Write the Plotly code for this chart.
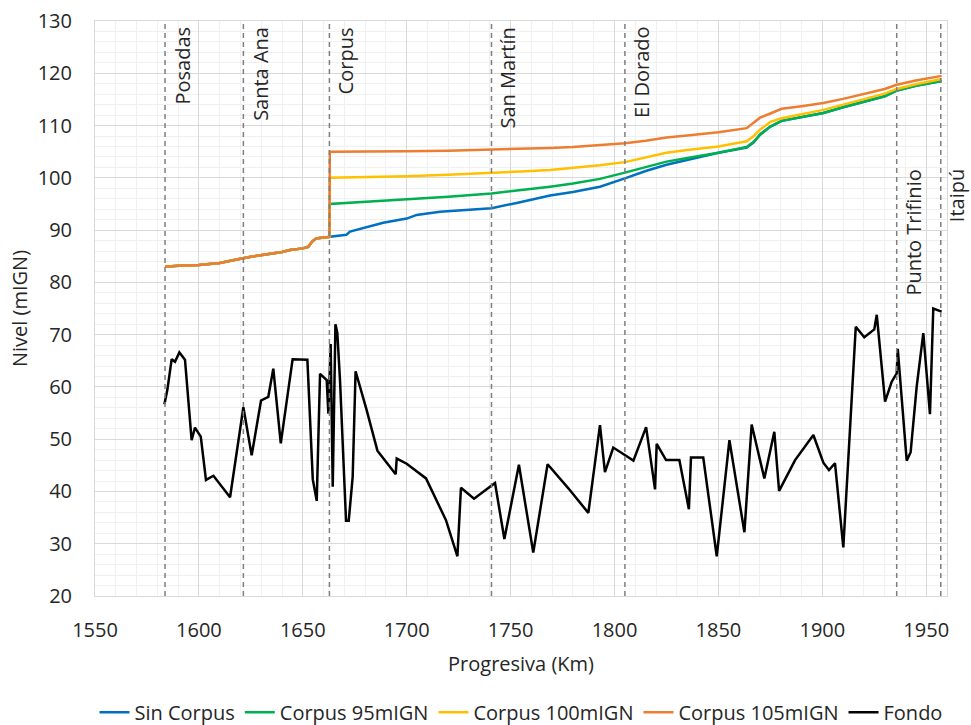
import plotly.graph_objects as go

# ---------------- data ----------------
# common water level upstream of Corpus (shared by all scenarios)
km_common = [1583.7, 1590, 1600, 1610, 1620, 1625, 1640, 1643.8, 1650, 1652.6, 1654.5, 1656.4, 1660, 1662.8]
lvl_common = [83.0, 83.2, 83.3, 83.7, 84.5, 84.9, 85.8, 86.2, 86.5, 86.8, 87.8, 88.4, 88.6, 88.7]

km_sin = [1662.8, 1668, 1671, 1672.7, 1680, 1688.7, 1700, 1704.8, 1716, 1728.9, 1740.8, 1752.9, 1760, 1769,
          1780, 1793, 1805, 1815, 1825, 1835, 1850, 1863.6, 1867, 1870, 1875, 1880.4, 1890, 1900.5, 1910,
          1920, 1930, 1935.8, 1945, 1957.4]
lvl_sin = [88.7, 88.9, 89.1, 89.7, 90.5, 91.4, 92.2, 92.9, 93.5, 93.9, 94.2, 95.2, 95.8, 96.6,
           97.3, 98.3, 99.9, 101.3, 102.5, 103.4, 104.8, 105.8, 106.8, 108.3, 109.8, 110.9, 111.6, 112.4, 113.5,
           114.5, 115.6, 116.7, 117.6, 118.5]

km_95 = [1662.8, 1663.0, 1680, 1700, 1720, 1740.8, 1755, 1769, 1780, 1793, 1805, 1815, 1825, 1835, 1850,
         1863.6, 1867, 1870, 1875, 1880.4, 1890, 1900.5, 1910, 1920, 1930, 1935.8, 1945, 1957.4]
lvl_95 = [88.7, 95.0, 95.4, 95.9, 96.4, 97.0, 97.6, 98.3, 98.9, 99.8, 101.0, 102.0, 103.1, 103.8, 104.8,
          105.9, 106.9, 108.2, 109.8, 110.9, 111.6, 112.4, 113.5, 114.5, 115.6, 116.7, 117.6, 118.5]

km_100 = [1662.8, 1663.0, 1680, 1700, 1720, 1740.8, 1755, 1769, 1780, 1793, 1805, 1815, 1825, 1835, 1850,
          1863.6, 1867, 1870, 1875, 1880.4, 1890, 1900.5, 1910, 1920, 1930, 1935.8, 1945, 1957.4]
lvl_100 = [88.7, 100.0, 100.1, 100.3, 100.6, 100.9, 101.2, 101.5, 101.9, 102.4, 103.0, 103.9, 104.8, 105.3, 106.0,
           107.0, 108.0, 109.2, 110.7, 111.4, 112.1, 113.0, 114.0, 115.0, 116.1, 117.0, 117.9, 118.9]

km_105 = [1662.8, 1663.0, 1680, 1700, 1720, 1740.8, 1755, 1769, 1780, 1793, 1805, 1815, 1825, 1835, 1850,
          1863.6, 1867, 1870, 1875, 1880.4, 1890, 1900.5, 1910, 1920, 1930, 1935.8, 1945, 1957.4]
lvl_105 = [88.7, 105.0, 105.0, 105.1, 105.2, 105.4, 105.5, 105.7, 105.9, 106.3, 106.6, 107.1, 107.7, 108.1, 108.7,
           109.5, 110.5, 111.5, 112.3, 113.2, 113.7, 114.3, 115.1, 116.0, 117.0, 117.8, 118.6, 119.5]

km_fondo = [1583.4, 1584.8, 1586.9, 1588.5, 1590.6, 1593.3, 1596.5, 1598.1, 1600.9, 1603.4, 1607.0, 1610.6,
            1615.0, 1621.4, 1625.4, 1629.9, 1633.4, 1635.8, 1639.4, 1645.1, 1651.4, 1652.2, 1654.8, 1656.7,
            1658.3, 1661.5, 1662.3, 1663.4, 1664.4, 1665.7, 1666.6, 1667.9, 1670.8, 1672.1, 1674.0, 1675.4,
            1680.7, 1685.9, 1694.7, 1695.2, 1700.0, 1709.3, 1718.9, 1724.4, 1726.1, 1732.4, 1742.5, 1747.0,
            1754.0, 1760.9, 1767.8, 1777.8, 1787.4, 1793.0, 1795.4, 1799.4, 1809.1, 1815.2, 1819.5, 1820.3,
            1824.8, 1831.2, 1835.8, 1836.8, 1842.7, 1849.2, 1855.3, 1862.5, 1866.0, 1872.1, 1876.9, 1879.2,
            1886.9, 1895.7, 1900.5, 1903.2, 1906.1, 1910.1, 1916.1, 1920.2, 1925.0, 1926.2, 1930.2, 1933.4,
            1935.8, 1936.3, 1940.6, 1942.5, 1945.4, 1948.6, 1951.8, 1953.4, 1957.4]
lvl_fondo = [56.7, 59.4, 65.3, 64.8, 66.6, 65.2, 49.8, 52.2, 50.5, 42.2, 43.0, 41.2,
             38.9, 56.1, 46.9, 57.4, 58.1, 63.5, 49.2, 65.3, 65.3, 65.2, 42.3, 38.2,
             62.5, 61.3, 54.9, 68.2, 40.9, 72.0, 70.4, 61.3, 34.4, 34.4, 42.8, 63.0,
             55.6, 47.8, 43.3, 46.3, 45.3, 42.5, 34.5, 27.6, 40.7, 38.6, 41.6, 30.9,
             45.1, 28.3, 45.2, 40.6, 35.9, 52.7, 43.7, 48.4, 45.9, 52.3, 40.4, 49.1,
             46.0, 46.0, 36.6, 46.5, 46.5, 27.6, 49.8, 32.2, 52.8, 42.5, 51.4, 40.1,
             46.0, 50.8, 45.5, 44.1, 45.4, 29.3, 71.5, 69.5, 71.0, 73.8, 57.2, 61.0,
             62.6, 67.3, 45.9, 47.5, 60.0, 70.3, 54.8, 75.0, 74.4]

stations = ["Posadas", "Santa Ana", "Corpus", "San Martín", "El Dorado", "Punto Trifinio", "Itaipú"]
station_km = [1583.7, 1621.4, 1662.8, 1740.8, 1805.0, 1935.8, 1957.0]
station_low = [False, False, False, False, False, True, True]

series_names = ["Sin Corpus", "Corpus 95mIGN", "Corpus 100mIGN", "Corpus 105mIGN", "Fondo"]
colors = ["#0070C0", "#00B050", "#FFC000", "#ED7D31", "#000000"]

FONT = "Open Sans"
TXT = "#262626"

fig = go.Figure()
upper = [(km_sin, lvl_sin), (km_95, lvl_95), (km_100, lvl_100), (km_105, lvl_105)]
for (kx, ly), name, col in zip(upper, series_names[:4], colors[:4]):
    fig.add_trace(go.Scatter(x=km_common + kx[1:], y=lvl_common + ly[1:], mode="lines", name=name,
                             line=dict(color=col, width=2.5)))
fig.add_trace(go.Scatter(x=km_fondo, y=lvl_fondo, mode="lines", name=series_names[4],
                         line=dict(color=colors[4], width=2.5)))

for name, k, low in zip(stations, station_km, station_low):
    fig.add_shape(type="line", xref="x", yref="paper", x0=k, x1=k, y0=0, y1=1,
                  line=dict(color="#7f7f7f", width=1.5, dash="5px,4px"), layer="above")
    if low:
        fig.add_annotation(x=k, y=102, xref="x", yref="y", text=name, textangle=-90,
                           showarrow=False, xanchor="left", yanchor="top", xshift=1,
                           font=dict(family=FONT, size=20, color=TXT))
    else:
        fig.add_annotation(x=k, y=1, xref="x", yref="paper", text=name, textangle=-90,
                           showarrow=False, xanchor="left", yanchor="top", xshift=1, yshift=-4,
                           font=dict(family=FONT, size=20, color=TXT))

fig.update_layout(
    width=971, height=725,
    margin=dict(l=95, r=24, t=21, b=129, autoexpand=False),
    plot_bgcolor="white", paper_bgcolor="white",
    font=dict(family=FONT, size=20, color=TXT),
    showlegend=True,
    legend=dict(orientation="h", x=0.5, xanchor="center", y=-0.202, yanchor="middle",
                font=dict(family=FONT, size=20, color=TXT), itemwidth=30, tracegroupgap=0),
    xaxis=dict(range=[1550, 1960], dtick=50, tick0=1550, automargin=False,
               showgrid=True, gridcolor="#d9d9d9", gridwidth=1,
               minor=dict(dtick=10, showgrid=True, gridcolor="#f0f0f0", gridwidth=1),
               showline=True, linecolor="#d9d9d9", mirror=True, zeroline=False,
               ticks="", ticklabelstandoff=16,
               title=dict(text="Progresiva (Km)", standoff=14, font=dict(family=FONT, size=20, color=TXT)),
               tickfont=dict(family=FONT, size=20, color=TXT)),
    yaxis=dict(range=[20, 130], dtick=10, tick0=20, automargin=False,
               showgrid=True, gridcolor="#d9d9d9", gridwidth=1,
               minor=dict(dtick=2, showgrid=True, gridcolor="#f0f0f0", gridwidth=1),
               showline=True, linecolor="#d9d9d9", mirror=True, zeroline=False,
               ticks="", ticklabelstandoff=18,
               title=dict(text="Nivel (mIGN)", standoff=4, font=dict(family=FONT, size=20, color=TXT)),
               tickfont=dict(family=FONT, size=20, color=TXT)),
)

fig.write_html("out.html")
